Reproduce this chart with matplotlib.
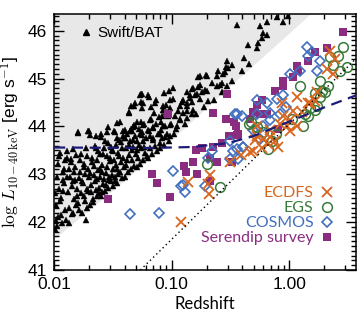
'''
log L(10-40 keV) contra redshift: Swift/BAT y los campos profundos
(ECDFS, EGS, COSMOS) junto con el serendip survey.
'''
import matplotlib
matplotlib.use('Agg')
import matplotlib.pyplot as plt
from matplotlib.lines import Line2D
from matplotlib.ticker import MultipleLocator, LogLocator, FixedLocator, NullFormatter, FormatStrFormatter

params = {'font.family': ['Liberation Sans', 'DejaVu Sans'],
          'mathtext.fontset': 'cm',
          'font.size': 12,
          'axes.linewidth': 1.1,
          'xtick.labelsize': 12.5,
          'ytick.labelsize': 12.5,
          'figure.dpi': 100,
          'savefig.dpi': 100,
          }
plt.rcParams.update(params)

############# DATOS #############
# Swift/BAT, triangulos negros
bat_z = [
    0.0101, 0.0103, 0.0105, 0.0107, 0.0109, 0.0111, 0.0113, 0.0115, 0.0117, 0.0119, 0.0121, 0.0123, 0.0125,
    0.0102, 0.0106, 0.0110, 0.0114, 0.0118, 0.0122, 0.0104, 0.0112, 0.0120,
    0.0127, 0.0129, 0.0131, 0.0133, 0.0135, 0.0137, 0.0139, 0.0141, 0.0143, 0.0145, 0.0147, 0.0149, 0.0151,
    0.0153, 0.0155, 0.0157, 0.0128, 0.0134, 0.0140, 0.0146, 0.0152, 0.0156, 0.0130, 0.0144,
    0.0159, 0.0162, 0.0165, 0.0168, 0.0171, 0.0174, 0.0177, 0.0180, 0.0183, 0.0186, 0.0189, 0.0192, 0.0195,
    0.0198, 0.0160, 0.0166, 0.0172, 0.0178, 0.0184, 0.0190, 0.0196, 0.0164, 0.0181, 0.0193,
    0.0201, 0.0204, 0.0208, 0.0212, 0.0216, 0.0220, 0.0224, 0.0228, 0.0232, 0.0236, 0.0240, 0.0244, 0.0248,
    0.0202, 0.0206, 0.0210, 0.0214, 0.0218, 0.0222, 0.0226, 0.0230, 0.0234, 0.0238, 0.0242, 0.0246, 0.0250,
    0.0252, 0.0256, 0.0260, 0.0265, 0.0270, 0.0275, 0.0280, 0.0285, 0.0290, 0.0295, 0.0300, 0.0305, 0.0310,
    0.0315, 0.0254, 0.0258, 0.0262, 0.0268, 0.0273, 0.0278, 0.0283, 0.0288, 0.0293, 0.0298, 0.0303, 0.0312,
    0.0318, 0.0323, 0.0328, 0.0334, 0.0340, 0.0346, 0.0352, 0.0358, 0.0364, 0.0370, 0.0376, 0.0382, 0.0388,
    0.0394, 0.0320, 0.0326, 0.0331, 0.0337, 0.0343, 0.0349, 0.0355, 0.0361, 0.0373, 0.0385,
    0.0400, 0.0406, 0.0413, 0.0420, 0.0427, 0.0434, 0.0441, 0.0448, 0.0455, 0.0462, 0.0470, 0.0478, 0.0486,
    0.0494, 0.0403, 0.0417, 0.0431, 0.0445, 0.0459, 0.0474, 0.0435, 0.0452,
    0.0503, 0.0512, 0.0521, 0.0530, 0.0540, 0.0550, 0.0560, 0.0570, 0.0581, 0.0592, 0.0603, 0.0614, 0.0625,
    0.0507, 0.0525, 0.0545, 0.0565, 0.0586, 0.0540, 0.0556,
    0.0634, 0.0646, 0.0658, 0.0670, 0.0683, 0.0696, 0.0709, 0.0722, 0.0736, 0.0750, 0.0764, 0.0778, 0.0790,
    0.0640, 0.0664, 0.0690, 0.0716, 0.0743,
    0.0800, 0.0815, 0.0830, 0.0846, 0.0862, 0.0878, 0.0895, 0.0912, 0.0930, 0.0948, 0.0966, 0.0985,
    0.0808, 0.0854, 0.0903, 0.0957,
    0.016, 0.0198, 0.0228, 0.0251, 0.0283, 0.033, 0.0402, 0.048, 0.0435, 0.048, 0.055, 0.055, 0.051, 0.0344,
    0.296, 0.291, 0.25, 0.275, 0.174, 0.197, 0.221, 0.244, 0.269, 0.296,
    0.103, 0.149, 0.167, 0.182, 0.20, 0.144, 0.159, 0.174, 0.205, 0.103,
    0.123, 0.136, 0.149, 0.0846, 0.097, 0.114, 0.136, 0.149, 0.0655, 0.083,
    0.107, 0.118, 0.136, 0.0488, 0.057, 0.0696, 0.0846, 0.097, 0.111, 0.0387,
    0.046, 0.054, 0.0655, 0.0798, 0.097, 0.0403, 0.047, 0.057, 0.0696, 0.088,
    0.056, 0.063, 0.0488, 0.057,
    0.361, 0.566, 0.65, 0.79, 0.889, 0.601, 0.589, 0.65, 0.445, 0.548,
    0.535, 0.41, 0.327, 0.30, 0.283, 0.244, 0.20, 0.169, 0.259, 0.174,
    0.152, 0.193, 0.136, 0.165, 0.144, 0.125, 0.118, 0.136, 0.152, 0.125,
    0.118, 0.98,
    0.105, 0.11, 0.13, 0.16, 0.19, 0.23, 0.27, 0.33, 0.40, 0.46,
    0.0187,
]
bat_L = [
    41.85, 42.35, 42.95, 43.22, 42.10, 42.70, 43.45, 42.50, 41.98, 43.05, 42.82, 42.25, 43.30,
    42.60, 41.92, 43.38, 42.15, 42.88, 43.12, 42.02, 42.45, 42.65,
    42.05, 43.48, 42.62, 43.10, 42.30, 42.95, 43.32, 42.18, 42.75, 43.52, 42.48, 43.05, 42.88,
    43.40, 42.35, 42.70, 42.95, 41.98, 43.25, 42.20, 43.15, 42.55, 43.35, 42.85,
    43.87, 42.25, 43.05, 42.60, 43.42, 42.20, 42.82, 43.22, 42.45, 43.55, 42.70, 42.30, 43.12,
    42.95, 42.40, 43.30, 42.85, 42.55, 43.00, 43.38, 42.65, 42.92, 43.15, 43.90,
    42.35, 43.02, 42.62, 43.35, 42.48, 43.18, 42.85, 43.55, 42.55, 43.08, 42.72, 43.42, 42.95,
    43.82, 42.78, 43.25, 42.42, 42.98, 43.60, 42.68, 43.30, 42.90, 43.48, 42.60, 43.12, 43.85,
    42.55, 43.20, 42.80, 43.55, 42.65, 43.02, 43.38, 42.72, 43.65, 42.95, 43.28, 42.85, 43.50,
    43.10, 43.05, 42.62, 43.42, 42.90, 43.70, 42.78, 43.15, 43.98, 42.88, 43.35, 43.58, 42.98,
    42.75, 43.30, 42.95, 43.62, 43.10, 42.82, 43.45, 43.72, 43.05, 43.25, 42.92, 43.55, 43.80,
    43.15, 43.48, 43.90, 42.85, 43.20, 43.75, 43.00, 43.38, 44.10, 43.68, 43.35,
    42.95, 43.55, 43.20, 43.85, 43.05, 43.40, 43.70, 43.12, 43.95, 43.30, 43.58, 43.18, 43.80,
    43.42, 43.75, 43.30, 43.62, 43.90, 43.50, 43.98, 44.30, 44.42,
    43.15, 43.70, 43.35, 43.95, 43.22, 43.55, 43.82, 43.30, 44.05, 43.45, 43.75, 43.38, 43.92,
    43.50, 43.62, 44.10, 43.88, 43.58, 44.65, 44.38,
    43.35, 43.90, 43.55, 44.15, 43.42, 43.75, 44.28, 43.60, 44.05, 43.48, 43.85, 44.20, 43.65,
    44.62, 44.40, 43.98, 44.48, 44.55,
    43.55, 44.10, 43.75, 44.35, 43.62, 44.00, 44.45, 43.85, 44.22, 43.70, 44.55, 44.05,
    43.92, 44.70, 44.30, 44.75,
    43.875, 43.90, 43.79, 43.77, 43.875, 43.875, 43.92, 44.04, 44.29, 44.42, 44.52, 44.67, 44.10, 44.08,
    45.375, 45.25, 45.15, 45.10, 45.06, 45.08, 44.90, 44.85, 44.90, 44.85,
    44.81, 44.79, 44.83, 44.73, 44.75, 44.65, 44.65, 44.58, 44.54, 44.58,
    44.52, 44.48, 44.52, 44.42, 44.375, 44.33, 44.33, 44.27, 44.125, 44.21,
    44.21, 44.125, 44.17, 44.0, 44.02, 43.96, 44.0, 44.02, 44.0, 43.9,
    43.9, 43.85, 43.81, 43.85, 43.81, 43.75, 43.71, 43.69, 43.71, 43.77,
    44.67, 44.65, 44.48, 44.48,
    46.12, 46.10, 46.19, 46.29, 46.19, 45.96, 45.85, 45.92, 45.71, 45.75,
    45.63, 45.44, 45.29, 45.23, 45.13, 45.06, 45.06, 45.04, 44.875, 44.875,
    44.81, 44.77, 44.73, 44.67, 44.60, 44.56, 44.42, 44.42, 44.35, 44.29,
    44.15, 46.30,
    43.85, 43.95, 44.05, 44.25, 44.40, 44.55, 44.72, 44.95, 45.15, 45.30,
    42.04,
]

# ECDFS (cruces naranjas)
ecdfs_z = [0.1205, 0.138, 0.208, 0.213, 0.205, 0.315, 0.466, 0.535, 0.601, 0.689, 0.662, 0.494, 0.805,
           1.02, 1.17, 1.51, 1.73, 2.23, 2.37, 2.11, 0.871, 1.17, 1.08, 1.45, 1.66, 0.689, 0.535, 0.837,
           1.02, 0.962, 0.889, 0.76, 0.59, 0.51, 0.39, 1.30, 2.45]
ecdfs_L = [42.0, 42.83, 42.58, 42.98, 42.79, 43.25, 43.46, 43.79, 43.73, 43.77, 43.625, 43.48, 43.58,
           43.9, 44.0, 44.5, 44.71, 45.58, 45.10, 45.21, 44.48, 44.625, 44.33, 44.48, 44.54, 43.92, 44.0, 44.06,
           44.125, 44.0, 44.21, 43.69, 43.55, 43.72, 43.40, 44.30, 45.40]

# EGS (circulos verdes)
egs_z = [0.457, 0.20, 0.259, 0.535, 0.601, 0.662, 0.716, 1.32, 1.45, 1.66, 1.84, 2.02, 2.23, 2.61, 3.12,
         2.72, 2.88, 2.37, 1.84, 2.15, 1.91, 1.51, 1.37, 1.66, 1.24, 1.73, 0.47, 0.78, 1.05]
egs_L = [44.06, 43.21, 42.73, 43.98, 43.875, 43.52, 43.69, 44.0, 44.21, 44.35, 44.625, 44.71, 45.46, 45.48,
         45.25, 45.15, 45.65, 45.29, 44.96, 44.85, 44.75, 44.375, 44.27, 44.69, 44.85, 44.42, 44.10, 43.85,
         44.15]

# COSMOS (diamantes azules)
cosmos_z = [0.0444, 0.0784, 0.103, 0.1205, 0.130, 0.193, 0.205, 0.221, 0.315, 0.361, 0.368, 0.347, 0.398,
            0.333, 0.406, 0.315, 0.65, 0.689, 0.566, 0.535, 0.791, 0.889, 0.535, 0.689, 0.837, 0.494, 1.02,
            1.24, 1.84, 1.73, 1.42, 1.45, 1.57, 0.125, 0.361, 0.406, 0.60, 0.95]
cosmos_L = [42.17, 42.19, 43.06, 42.75, 42.625, 42.75, 43.35, 43.48, 43.69, 43.52, 43.31, 44.25, 44.21,
            43.48, 43.56, 43.31, 44.5, 44.29, 43.73, 44.56, 44.58, 44.65, 44.27, 44.125, 44.27, 43.92, 45.10,
            45.15, 45.375, 45.15, 45.67, 45.48, 45.56, 42.77, 44.25, 43.56, 44.0, 44.40]

# Serendip survey (cuadrados violetas)
serendip_z = [0.0288, 0.0682, 0.0753, 0.097, 0.0933, 0.128, 0.152, 0.165, 0.133, 0.162, 0.182, 0.225, 0.213,
              0.244, 0.327, 0.213, 0.225, 0.296, 0.291, 0.308, 0.269, 0.354, 0.368, 0.466, 0.514, 0.566,
              0.589, 0.535, 0.65, 0.805, 0.889, 1.08, 0.76, 1.17, 1.45, 1.19, 1.66, 2.11, 2.88,
              0.494, 0.889, 0.34, 0.361]
serendip_L = [42.48, 43.0, 42.81, 42.52, 44.25, 43.17, 43.25, 43.0, 43.04, 43.5, 43.54, 43.56, 43.35,
              43.25, 43.25, 42.85, 44.29, 44.67, 44.15, 43.79, 43.65, 44.0, 43.85, 44.15, 44.31, 44.25,
              44.56, 44.44, 44.27, 43.94, 44.85, 45.04, 44.75, 45.27, 45.375, 45.15, 45.56, 45.63, 45.98,
              44.31, 44.94, 44.10, 43.83]

# limite de sensibilidad BAT (borde de la zona gris)
limit_z = [0.01, 0.03, 0.0863, 0.3, 1.0, 1.51, 2.5]
limit_L = [41.65, 42.62, 43.58, 44.8, 45.95, 46.35, 46.9]

# curva punteada
dotted_z = [0.0543, 3.8]
dotted_L = [41.0, 45.44]

# curva a trazos
dashed_z = [0.01, 0.065, 0.15, 0.3, 0.5, 1.0, 2.0, 3.72]
dashed_L = [43.56, 43.55, 43.57, 43.65, 43.80, 44.10, 44.40, 44.65]
######################################################

c_ecdfs = '#d8661f'
c_egs = '#3a7a3a'
c_cosmos = '#4270c0'
c_ser = '#8a2c80'

fig = plt.figure(figsize=(3.63, 3.18))
ax = fig.add_axes([0.149, 0.151, 0.832, 0.805])
ax.set_xscale('log')

ax.fill_between(limit_z, limit_L, 47, color='#e8e8e8', lw=0, zorder=0)

ax.plot(bat_z, bat_L, ls='none', marker='^', ms=5, mfc='k', mec='k', mew=0.3, zorder=2)
ax.plot(serendip_z, serendip_L, ls='none', marker='s', ms=6.4, mfc=c_ser, mec=c_ser, mew=0, zorder=3)
ax.plot(cosmos_z, cosmos_L, ls='none', marker='D', ms=4.6, mfc='none', mec=c_cosmos, mew=1.2, zorder=4)
ax.plot(egs_z, egs_L, ls='none', marker='o', ms=7, mfc='none', mec=c_egs, mew=1.1, zorder=4)
ax.plot(ecdfs_z, ecdfs_L, ls='none', marker='x', ms=7, mec=c_ecdfs, mew=1.3, zorder=5)

ax.plot(dotted_z, dotted_L, ls=(0, (1, 2.2)), color='k', lw=1.0, zorder=6)
ax.plot(dashed_z, dashed_L, ls=(0, (5, 3)), color='#1c1c78', lw=1.6, zorder=6)

ax.set_xlim(0.01, 3.72)
ax.set_ylim(41, 46.35)

ax.xaxis.set_major_locator(FixedLocator([0.01, 0.1, 1.0]))
ax.xaxis.set_major_formatter(FormatStrFormatter('%.2f'))
ax.xaxis.set_minor_locator(LogLocator(base=10, subs=range(2, 10)))
ax.xaxis.set_minor_formatter(NullFormatter())
ax.yaxis.set_major_locator(MultipleLocator(1))
ax.yaxis.set_minor_locator(MultipleLocator(0.1))

ax.tick_params(which='both', direction='in', top=True, right=True, width=1.0)
ax.tick_params(which='major', length=7, pad=5)
ax.tick_params(which='minor', length=3.5)

ax.set_xlabel('Redshift', fontsize=12, family=['Lato', 'DejaVu Sans'], labelpad=3)
ax.set_ylabel(r'$\log\,L_{10-40\,{\rm keV}}$ [erg s$^{-1}$]', fontsize=12.5, labelpad=4)

# leyenda Swift/BAT
h_bat = Line2D([], [], ls='none', marker='^', ms=5, color='k')
leg1 = ax.legend([h_bat], ['Swift/BAT'], loc='upper left', bbox_to_anchor=(0.045, 1.0), frameon=False,
                 handlelength=0.8, handletextpad=0.35, borderaxespad=0.4, prop={'size': 11})
ax.add_artist(leg1)

# leyenda de los surveys
handles = [Line2D([], [], ls='none', marker='x', ms=7, mec=c_ecdfs, mew=1.3),
           Line2D([], [], ls='none', marker='o', ms=7, mfc='none', mec=c_egs, mew=1.1),
           Line2D([], [], ls='none', marker='D', ms=4.6, mfc='none', mec=c_cosmos, mew=1.2),
           Line2D([], [], ls='none', marker='s', ms=6.4, mfc=c_ser, mec=c_ser, mew=0)]
labels = ['ECDFS', 'EGS', 'COSMOS', 'Serendip survey']
ax.legend(handles, labels, loc='lower right', bbox_to_anchor=(0.975, 0.04), frameon=False,
          markerfirst=False, handlelength=0.9, handletextpad=0.4, labelspacing=0.05,
          labelcolor='markeredgecolor', prop={'family': ['Lato', 'DejaVu Sans'], 'size': 11.5})

fig.savefig('out.png', dpi=100)
